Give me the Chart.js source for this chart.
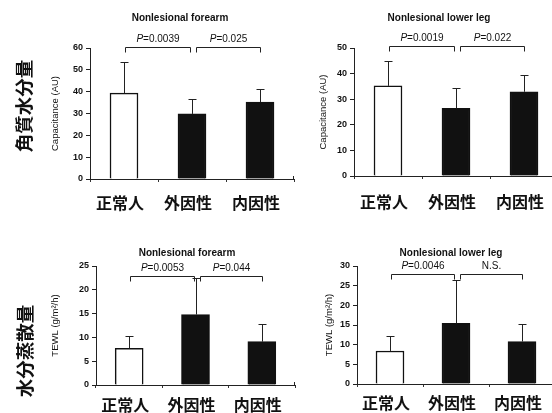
<!DOCTYPE html>
<html>
<head>
<meta charset="utf-8">
<script src="https://cdn.jsdelivr.net/npm/chart.js@4"></script>
<style>
  html, body { margin: 0; padding: 0; background: #fff; width: 552px; height: 413px; overflow: hidden; position: relative; }
  canvas { position: absolute; }
</style>
</head>
<body>
<canvas id="c1" width="300" height="212" style="left:0;top:0"></canvas>
<canvas id="c2" width="270" height="212" style="left:300px;top:0"></canvas>
<canvas id="c3" width="300" height="201" style="left:0;top:212px"></canvas>
<canvas id="c4" width="270" height="201" style="left:300px;top:212px"></canvas>
<script>
// groups
const groups = ['正常人', '外因性', '内因性'];
// row headings
const rowLabels = ['角質水分量', '水分蒸散量'];

// capacitance (AU), mean and upper SD
const capArmMean = [39.3, 29.8, 35.2];
const capArmSd = [14.5, 7.0, 5.9];
const capLegMean = [35.2, 26.4, 32.9];
const capLegSd = [9.8, 7.8, 6.4];

// TEWL (g/m2/h)
const tewlArmMean = [7.7, 14.8, 9.1];
const tewlArmSd = [2.6, 7.7, 3.8];
const tewlLegMean = [8.4, 15.4, 10.8];
const tewlLegSd = [3.9, 11.1, 4.5];

// significance labels
const capArmP = ['P=0.0039', 'P=0.025'];
const capLegP = ['P=0.0019', 'P=0.022'];
const tewlArmP = ['P=0.0053', 'P=0.044'];
const tewlLegP = ['P=0.0046', 'N.S.'];

// y axis ranges
const capArmTicks = { max: 60, step: 10 };
const capLegTicks = { max: 50, step: 10 };
const tewlArmTicks = { max: 25, step: 5 };
const tewlLegTicks = { max: 30, step: 5 };

const LAT = '"Liberation Sans", Arial, sans-serif';
const CJK = "'Noto Sans CJK JP'";
const INK = '#111';

const annot = {
  id: 'annot',
  afterDatasetsDraw(chart, args, o) {
    const ctx = chart.ctx, xs = chart.scales.x, ys = chart.scales.y;
    ctx.save();
    ctx.strokeStyle = '#222';
    ctx.lineWidth = 1;
    // error bars (upper only)
    chart.getDatasetMeta(0).data.forEach((bar, i) => {
      const top = Math.round(ys.getPixelForValue(o.means[i] + o.errs[i])) + 0.5;
      const bx = Math.round(bar.x) + 0.5;
      ctx.beginPath();
      ctx.moveTo(bx, bar.y);
      ctx.lineTo(bx, top);
      ctx.moveTo(bx - 4, top);
      ctx.lineTo(bx + 4, top);
      ctx.stroke();
    });
    // small upturn at the end of the x axis
    const ex = Math.round(chart.chartArea.right) - 0.5, ey = Math.round(chart.chartArea.bottom);
    ctx.beginPath();
    ctx.moveTo(ex, ey);
    ctx.lineTo(ex, ey - 3);
    ctx.stroke();
    // title
    ctx.fillStyle = INK;
    ctx.font = 'bold 10px ' + LAT;
    ctx.textAlign = 'center';
    ctx.textBaseline = 'middle';
    ctx.fillText(o.title, o.titleX, o.titleY);
    // row heading, rotated
    if (o.side) {
      ctx.save();
      ctx.translate(o.side.x, o.side.y);
      ctx.rotate(-Math.PI / 2);
      ctx.font = 'bold 18.5px ' + CJK;
      ctx.fillText(o.side.text, 0, 0);
      ctx.restore();
    }
    // brackets
    const yy = Math.round(ys.getPixelForValue(o.level)) + 0.5;
    const spans = [
      [xs.getPixelForValue(0) + 1, xs.getPixelForValue(1) - 2],
      [xs.getPixelForValue(1) + 4, xs.getPixelForValue(2)]
    ];
    spans.forEach((s, i) => {
      const x0 = Math.round(s[0]) + 0.5, x1 = Math.round(s[1]) + 0.5;
      ctx.beginPath();
      ctx.moveTo(x0, yy + 5);
      ctx.lineTo(x0, yy);
      ctx.lineTo(x1, yy);
      ctx.lineTo(x1, yy + 5);
      ctx.stroke();
      const txt = o.pLabels[i];
      const cx = (x0 + x1) / 2, ty = yy - 8;
      ctx.textAlign = 'left';
      if (txt.startsWith('P')) {
        const rest = txt.slice(1);
        ctx.font = 'italic 10px ' + LAT;
        const w1 = ctx.measureText('P').width;
        ctx.font = '10px ' + LAT;
        const w2 = ctx.measureText(rest).width;
        const sx = cx - (w1 + w2) / 2;
        ctx.font = 'italic 10px ' + LAT;
        ctx.fillText('P', sx, ty);
        ctx.font = '10px ' + LAT;
        ctx.fillText(rest, sx + w1, ty);
      } else {
        ctx.font = '10px ' + LAT;
        ctx.textAlign = 'center';
        ctx.fillText(txt, cx, ty);
      }
    });
    ctx.restore();
  }
};

function makePanel(id, g, means, errs, ticks, yTitle, pLabels, title, side) {
  const canvas = document.getElementById(id);
  const W = canvas.width, H = canvas.height;
  const titleLH = 9.5 * 1.2;
  const padLeft = g.yTitleX - titleLH / 2;
  const xFont = 16;
  const xTickLen = 3;
  new Chart(canvas.getContext('2d'), {
    type: 'bar',
    data: {
      labels: groups,
      datasets: [{
        data: means,
        backgroundColor: ['#ffffff', INK, INK],
        borderColor: INK,
        borderWidth: 1.5,
        borderSkipped: 'bottom',
        barThickness: 28
      }]
    },
    options: {
      responsive: false,
      animation: false,
      events: [],
      devicePixelRatio: 1,
      layout: { padding: { left: padLeft, right: W - g.right, top: g.top, bottom: 0 } },
      plugins: {
        legend: { display: false },
        tooltip: { enabled: false },
        annot: {
          means: means, errs: errs, level: g.level, pLabels: pLabels,
          title: title, titleX: g.titleX, titleY: g.titleY, side: side
        }
      },
      scales: {
        x: {
          offset: true,
          grid: { display: true, drawOnChartArea: false, drawTicks: true, tickLength: xTickLen, color: '#333', offset: true },
          border: { display: true, color: '#222', width: 1 },
          ticks: {
            color: INK,
            font: { family: CJK, size: xFont, weight: 'bold' },
            padding: g.labelGap - xTickLen - xFont * 1.2 / 2,
            labelOffset: -4,
            maxRotation: 0,
            autoSkip: false
          },
          afterFit(s) { s.height = H - g.bottom; }
        },
        y: {
          min: 0,
          max: ticks.max,
          grid: { drawOnChartArea: false, drawTicks: true, tickLength: 4, color: '#222' },
          border: { display: true, color: '#222', width: 1 },
          ticks: {
            stepSize: ticks.step,
            color: INK,
            padding: 3,
            font: { family: LAT, size: 9, weight: 'bold' }
          },
          title: {
            display: true,
            text: yTitle,
            color: INK,
            padding: 0,
            font: { family: LAT, size: 9.5 }
          },
          afterFit(s) { s.width = g.left - padLeft; }
        }
      }
    },
    plugins: [annot]
  });
}

makePanel('c1', { left: 90, right: 294, top: 48, bottom: 179, yTitleX: 55, titleX: 180, titleY: 18, level: 60.5, labelGap: 24 },
  capArmMean, capArmSd, capArmTicks, 'Capacitance (AU)', capArmP, 'Nonlesional forearm',
  { text: rowLabels[0], x: 24, y: 106 });
makePanel('c2', { left: 54, right: 258, top: 48, bottom: 176, yTitleX: 23, titleX: 139, titleY: 18, level: 50.8, labelGap: 26 },
  capLegMean, capLegSd, capLegTicks, 'Capacitance (AU)', capLegP, 'Nonlesional lower leg');
makePanel('c3', { left: 96, right: 295, top: 54, bottom: 173, yTitleX: 55, titleX: 187, titleY: 41, level: 22.9, labelGap: 20 },
  tewlArmMean, tewlArmSd, tewlArmTicks, 'TEWL (g/m²/h)', tewlArmP, 'Nonlesional forearm',
  { text: rowLabels[1], x: 25, y: 139 });
makePanel('c4', { left: 57, right: 255, top: 54, bottom: 172, yTitleX: 29, titleX: 151, titleY: 41, level: 28, labelGap: 19 },
  tewlLegMean, tewlLegSd, tewlLegTicks, 'TEWL (g/m²/h)', tewlLegP, 'Nonlesional lower leg');
</script>
</body>
</html>
